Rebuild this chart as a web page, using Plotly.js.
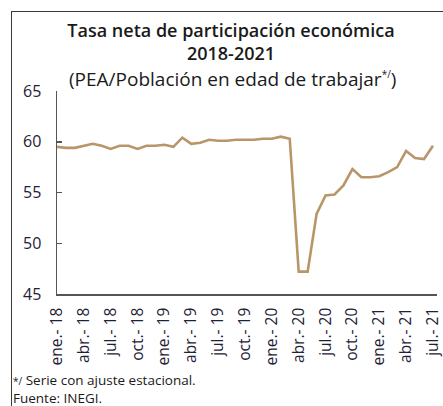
<!DOCTYPE html>
<html>
<head>
<meta charset="utf-8">
<script src="https://cdn.plot.ly/plotly-3.0.1.min.js"></script>
<style>
  html, body { margin: 0; padding: 0; background: #fff; }
  #wrap { position: relative; width: 443px; height: 406px; }
  #frame { position: absolute; left: 11px; top: 11px; width: 440px; height: 400px;
           border-left: 1.5px solid #3a3a3a; border-top: 1.5px solid #3a3a3a; pointer-events: none; }
  #chart { position: absolute; left: 0; top: 0; width: 443px; height: 406px; }
</style>
</head>
<body>
<div id="wrap">
  <div id="chart"></div>
  <div id="frame"></div>
</div>
<script>
// Month abbreviations and years used for the category labels
const monthNames = ["ene.", "feb.", "mar.", "abr.", "may.", "jun.", "jul.", "ago.", "sep.", "oct.", "nov.", "dic."];
const years = ["18", "19", "20", "21"];
const nMonths = 43; // ene-2018 .. jul-2021

// Tasa neta de participación económica (%), seasonally adjusted
const tasa = [
  59.5, 59.4, 59.4, 59.6, 59.8, 59.6, 59.3, 59.6, 59.6, 59.3, 59.6, 59.6,
  59.7, 59.5, 60.4, 59.8, 59.9, 60.2, 60.1, 60.1, 60.2, 60.2, 60.2, 60.3,
  60.3, 60.5, 60.3, 47.2, 47.2, 52.9, 54.7, 54.8, 55.7, 57.3, 56.5, 56.5,
  56.6, 57.0, 57.5, 59.1, 58.4, 58.3, 59.6
];

const yTicks = [45, 50, 55, 60, 65];

const labels = [];
for (let i = 0; i < nMonths; i++) {
  labels.push(monthNames[i % 12] + "- " + years[Math.floor(i / 12)]);
}
const xTickVals = labels.filter((_, i) => i % 3 === 0);

const trace = {
  x: labels,
  y: tasa,
  type: "scatter",
  mode: "lines",
  line: { color: "#B9956A", width: 2.6 },
  hoverinfo: "skip"
};

const fontFam = "'Open Sans', 'Noto Sans', sans-serif";
const txtColor = "#1e2235";

const layout = {
  width: 443,
  height: 406,
  margin: { l: 57, r: 6, t: 91, b: 112 },
  paper_bgcolor: "rgba(0,0,0,0)",
  plot_bgcolor: "rgba(0,0,0,0)",
  showlegend: false,
  font: { family: fontFam, color: txtColor },
  title: {
    text: "Tasa neta de participación económica<br>2018-2021",
    font: { family: fontFam, size: 18, weight: 600, color: "#1a1a1a" },
    x: 231 / 443,
    xanchor: "center",
    y: 1 - 37 / 406,
    yanchor: "top",
    xref: "container",
    yref: "container"
  },
  annotations: [
    {
      text: "(PEA/Población en edad de trabajar<sup><span style='font-size:10px'>*/</span></sup>)",
      xref: "paper", yref: "paper",
      x: (232 - 57) / 380, y: (294 - 79) / 203,
      xanchor: "center", yanchor: "middle",
      showarrow: false,
      font: { family: fontFam, size: 19, color: "#1a1a1a" }
    },
    {
      text: "<span style='font-size:10px'>*/</span> Serie con ajuste estacional.<br>Fuente: INEGI.",
      xref: "paper", yref: "paper",
      x: (12 - 57) / 380, y: (294 - 408) / 203,
      xanchor: "left", yanchor: "bottom",
      align: "left",
      borderpad: 0,
      showarrow: false,
      font: { family: fontFam, size: 13.5, color: "#1a1a1a" }
    }
  ],
  xaxis: {
    type: "category",
    range: [0, 42.45],
    tickmode: "array",
    tickvals: xTickVals,
    ticktext: xTickVals,
    tickangle: -90,
    ticks: "",
    ticklabelstandoff: 6,
    showgrid: false,
    zeroline: false,
    showline: true,
    linecolor: "#555555",
    linewidth: 1.5,
    tickfont: { family: fontFam, size: 15.5, color: txtColor },
    fixedrange: true
  },
  yaxis: {
    range: [45, 65],
    tickmode: "array",
    tickvals: yTicks,
    ticktext: yTicks.map(String),
    ticks: "inside",
    ticklen: 5,
    tickwidth: 1.5,
    tickcolor: "#555555",
    ticklabelstandoff: 11,
    showgrid: false,
    zeroline: false,
    showline: true,
    linecolor: "#555555",
    linewidth: 1.5,
    tickfont: { family: fontFam, size: 16, color: txtColor },
    fixedrange: true
  }
};

Plotly.newPlot("chart", [trace], layout, { displayModeBar: false, staticPlot: true });
</script>
</body>
</html>
